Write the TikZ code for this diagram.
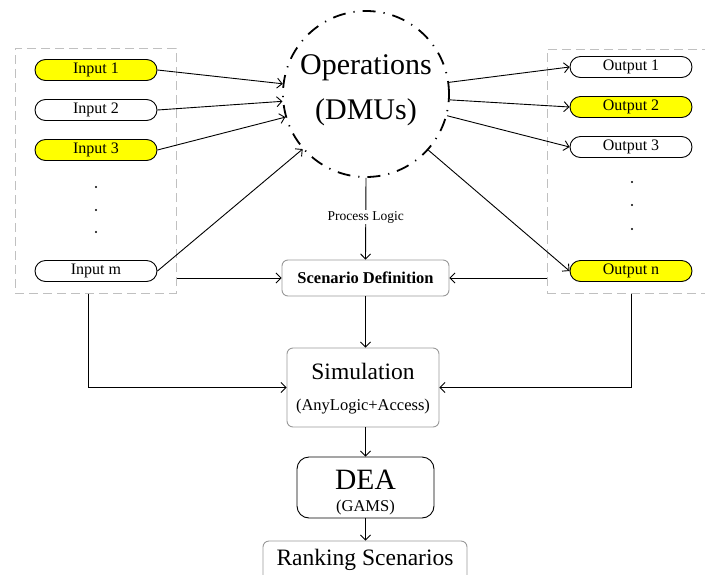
\documentclass[tikz,border=0pt]{standalone}
\usepackage{fontspec}
\setmainfont{Liberation Serif}
\usetikzlibrary{arrows.meta}
\definecolor{boxgray}{HTML}{999999}
\definecolor{dashgray}{HTML}{C0C0C0}
\definecolor{pillyellow}{HTML}{FFFF00}
\tikzset{
  pill/.style={draw=black, line width=0.9pt, rounded corners=10.5pt, minimum width=122pt, minimum height=21pt, inner sep=0pt, font=\fontsize{16}{18}\selectfont},
  ypill/.style={pill, fill=pillyellow},
  wpill/.style={pill, fill=white},
  graybox/.style={draw=boxgray, line width=0.9pt, rounded corners=6pt, inner sep=0pt, fill=white},
  groupbox/.style={draw=dashgray, line width=1pt, dash pattern=on 9pt off 5pt},
  conn/.style={draw=black, line width=0.9pt, -{Straight Barb[length=5pt,width=10pt]}},
  plain/.style={draw=black, line width=0.9pt},
  dotmark/.style={fill=black, circle, inner sep=0pt, minimum size=2.2pt},
}
\begin{document}
\begin{tikzpicture}[x=1pt,y=-1pt]
\useasboundingbox (0,0) rectangle (705,574);
\clip (0,0) rectangle (705,574);
% group boxes
\node[groupbox, minimum width=161pt, minimum height=245pt, inner sep=0pt] (lbox) at (95.5,170.5) {};
\node[groupbox, minimum width=163pt, minimum height=244pt, inner sep=0pt] (rbox) at (628.5,171) {};
% operations circle
\node[circle, draw=black, line width=1.8pt, dash pattern=on 13pt off 8pt on 1.2pt off 8pt, minimum size=166pt, inner sep=0pt] (op) at (366,94) {};
\node[font=\fontsize{30}{36}\selectfont] (opt1) at (366,68) {Operations};
\node[font=\fontsize{30}{36}\selectfont] (opt2) at (366,112) {(DMUs)};
% inputs
\node[ypill] (in1) at (96,70) {Input 1};
\node[wpill] (in2) at (96,110) {Input 2};
\node[ypill] (in3) at (96,150) {Input 3};
\node[wpill] (inm) at (96,271) {Input m};
\node[dotmark] (ld1) at (96,187) {};
\node[dotmark] (ld2) at (96,210) {};
\node[dotmark] (ld3) at (96,232) {};
% outputs
\node[wpill] (out1) at (631,67) {Output 1};
\node[ypill] (out2) at (631,107) {Output 2};
\node[wpill] (out3) at (631,147) {Output 3};
\node[ypill] (outn) at (631,271) {Output n};
\node[dotmark] (rd1) at (632,182) {};
\node[dotmark] (rd2) at (632,205) {};
\node[dotmark] (rd3) at (632,229) {};
% process boxes
\node[graybox, minimum width=167pt, minimum height=36pt, font=\fontsize{16.5}{18}\selectfont\bfseries] (scen) at (365.5,278) {Scenario Definition};
\node[graybox, minimum width=152pt, minimum height=79pt] (sim) at (363,387.5) {};
\node[font=\fontsize{23.5}{26}\selectfont] (simt1) at (363,371) {Simulation};
\node[font=\fontsize{16.5}{18}\selectfont] (simt2) at (363,407) {(AnyLogic+Access)};
\node[draw=black, line width=0.9pt, rounded corners=12pt, minimum width=137pt, minimum height=61pt, inner sep=0pt] (dea) at (365.5,487.5) {};
\node[font=\fontsize{29.5}{32}\selectfont] (deat1) at (365.5,480) {DEA};
\node[font=\fontsize{16.5}{18}\selectfont] (deat2) at (365.5,508) {(GAMS)};
\node[graybox, minimum width=204pt, minimum height=44pt] (rank) at (365,563) {};
\node[font=\fontsize{23.5}{26}\selectfont] (rankt) at (365,560) {Ranking Scenarios};
% connectors inputs -> operations
\draw[conn] (in1.east) -- (op.173);
\draw[conn] (in2.east) -- (op.185);
\draw[conn] (in3.east) -- (op.196);
\draw[conn] (inm.east) -- (op.221);
% operations -> outputs
\draw[conn] (op.8) -- (out1.west);
\draw[conn] (op.-4) -- (out2.west);
\draw[conn] (op.-15) -- (out3.west);
\draw[conn] (op.-42) -- (outn.west);
% operations -> scenario
\draw[conn] (op.south) -- node[fill=white, inner sep=1pt, font=\fontsize{13.5}{15}\selectfont, pos=0.48] (pl) {Process Logic} (scen.north);
% groups -> scenario
\draw[conn] (lbox.east |- scen.west) -- (scen.west);
\draw[conn] (rbox.west |- scen.east) -- (scen.east);
% groups -> simulation
\coordinate (lc) at (88,387.5);
\coordinate (rc) at (631,387.5);
\draw[conn] (lbox.south -| lc) -- (lc) -- (sim.west);
\draw[conn] (rbox.south -| rc) -- (rc) -- (sim.east);
% chain
\draw[conn] (scen.south) -- (sim.north -| scen.south);
\draw[conn] (sim.south -| scen.south) -- (dea.north);
\draw[conn] (dea.south) -- (rank.north -| dea.south);
\end{tikzpicture}
\end{document}
